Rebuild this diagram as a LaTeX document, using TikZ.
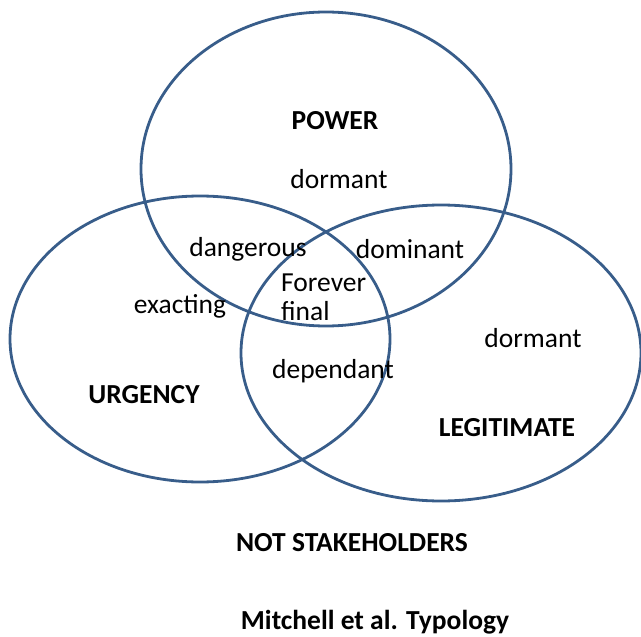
\documentclass[tikz,border=0pt]{standalone}
\usepackage{fontspec}
\setmainfont{Carlito}
\usetikzlibrary{shapes.geometric, positioning}
\definecolor{ringblue}{RGB}{56,93,138}

\begin{document}
\begin{tikzpicture}[
    x=1pt, y=-1pt,
    ring/.style={ellipse, draw=ringblue, line width=2.8pt, inner sep=0pt},
    word/.style={inner sep=0pt, font=\fontsize{27.5}{29}\selectfont},
    title/.style={inner sep=0pt, font=\fontsize{27.5}{29}\selectfont\bfseries}
]
\useasboundingbox (0,0) rectangle (641,637);
\node [ring, minimum width=370pt, minimum height=314pt] (power) at (326,169) {};
\node [ring, minimum width=380pt, minimum height=286pt] (urgency) at (200,339) {};
\node [ring, minimum width=400pt, minimum height=296pt] (legit) at (441,353) {};
\node [title] (powerlbl) at (335,121) {POWER};
\node [word] (dormanttop) at (339,179) {dormant};
\node [word] (dangerous) at (248,249) {dangerous};
\node [word] (dominant) at (410,249) {dominant};
\node [word, anchor=west, align=left] (forever) at (281,297) {Forever\\final};
\node [word] (exacting) at (180,306) {exacting};
\node [word] (dormantright) at (533,338) {dormant};
\node [word] (dependant) at (333,371) {dependant};
\node [title] (urgencylbl) at (144,395) {URGENCY};
\node [title] (legitlbl) at (507,428) {LEGITIMATE};
\node [title] (notstake) at (352,543) {NOT STAKEHOLDERS};
\node [title] (typology) at (375,622) {Mitchell et al. Typology};
\end{tikzpicture}
\end{document}
